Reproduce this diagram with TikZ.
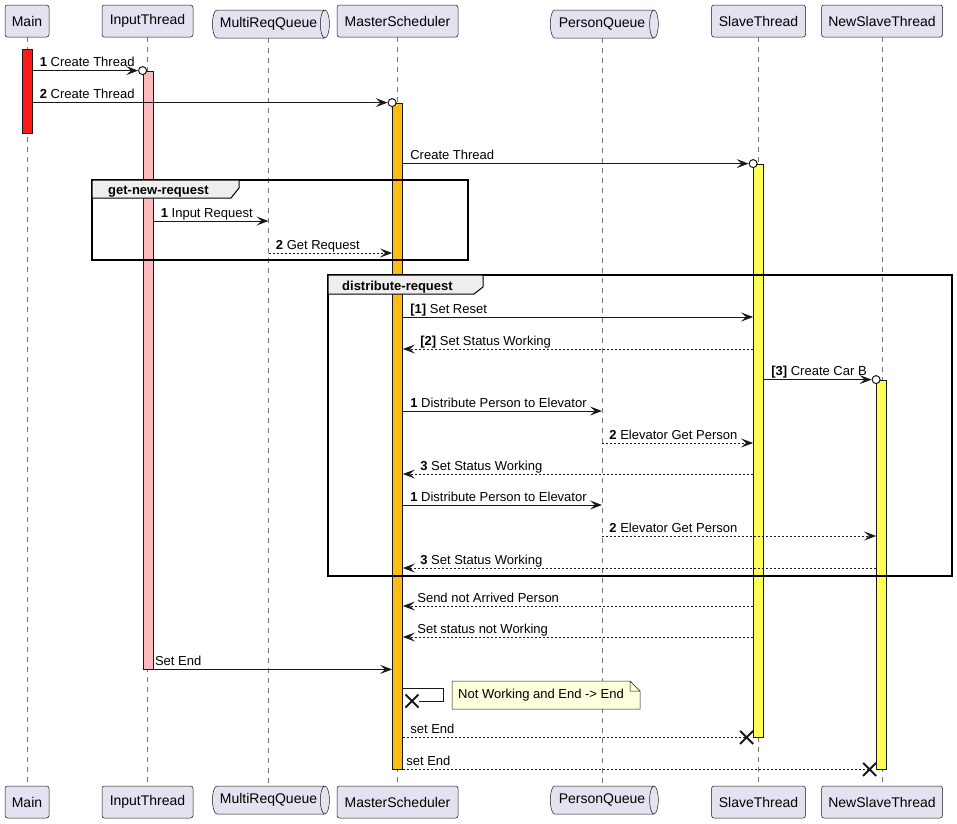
\documentclass[tikz,border=0pt]{standalone}
\usepackage{fontspec}
\setmainfont{Liberation Sans}
\usetikzlibrary{arrows.meta,shapes.geometric,shapes.misc}

\definecolor{partfill}{HTML}{E2E2F0}
\definecolor{partline}{HTML}{181818}
\definecolor{mainred}{HTML}{FF1A1A}
\definecolor{inputpink}{HTML}{FFBBBB}
\definecolor{masterorange}{HTML}{FFBB11}
\definecolor{slaveyellow}{HTML}{FFFF55}
\definecolor{notefill}{HTML}{FEFFDD}
\definecolor{grouphead}{HTML}{EEEEEE}

\tikzset{
  part/.style={draw=partline, fill=partfill, rounded corners=2.5pt, line width=0.5pt,
    minimum height=32pt, inner sep=0pt, font=\fontsize{14}{16}\selectfont},
  queue/.style={cylinder, draw=partline, fill=partfill, line width=0.5pt, shape aspect=0.7,
    minimum width=28pt, inner sep=0pt, font=\fontsize{14}{16}\selectfont},
  act/.style={draw=partline, line width=0.8pt, minimum width=10pt, inner sep=0pt},
  lifeline/.style={draw=gray!90!black, dash pattern=on 5pt off 5pt, line width=0.6pt},
  msg/.style={-{Stealth[length=12pt,width=9pt,inset=5pt]}, line width=0.9pt, draw=partline},
  reply/.style={msg, dash pattern=on 2pt off 2pt},
  endline/.style={line width=0.9pt, draw=partline, dash pattern=on 2pt off 2pt},
  lbl/.style={anchor=base west, inner sep=0pt, font=\fontsize{13}{15}\selectfont},
  create/.style={circle, draw=partline, fill=white, line width=1pt, minimum size=8pt, inner sep=0pt},
  destroy/.style={cross out, draw=partline, line width=2pt, minimum size=11pt, inner sep=0pt},
  grpframe/.style={draw=black, line width=1.5pt},
  grphead/.style={fill=grouphead, draw=black, line width=1pt},
  grplbl/.style={anchor=base west, inner sep=0pt, font=\fontsize{13}{15}\selectfont\bfseries},
}

\begin{document}
\begin{tikzpicture}[x=1pt,y=-1pt]
\useasboundingbox (0,0) rectangle (957,823);

%participants, top and bottom
\node[part, minimum width=44pt] (main) at (27,21) {Main};
\node[part, minimum width=91pt] (ipt) at (147.5,21) {InputThread};
\node[queue, minimum height=117pt] (mrq) at (268.5,24) {MultiReqQueue};
\node[part, minimum width=121pt] (ms) at (397.5,21) {MasterScheduler};
\node[queue, minimum height=108pt] (pq) at (602,24) {PersonQueue};
\node[part, minimum width=94pt] (sl) at (758.5,21) {SlaveThread};
\node[part, minimum width=121pt] (nsl) at (882,21) {NewSlaveThread};

\node[part, minimum width=44pt] (mainb) at (27,802) {Main};
\node[part, minimum width=91pt] (iptb) at (147.5,802) {InputThread};
\node[queue, minimum height=117pt] (mrqb) at (268.5,800) {MultiReqQueue};
\node[part, minimum width=121pt] (msb) at (397.5,802) {MasterScheduler};
\node[queue, minimum height=108pt] (pqb) at (602,800) {PersonQueue};
\node[part, minimum width=94pt] (slb) at (758.5,802) {SlaveThread};
\node[part, minimum width=121pt] (nslb) at (882,802) {NewSlaveThread};

%lifelines
\foreach \p in {main,ipt,mrq,ms,pq,sl,nsl}
  \draw[lifeline] (\p.south) -- (\p b.north);

%activations
\node[act, fill=mainred, minimum height=84pt] (mainact) at (27,91) {};
\node[act, fill=inputpink, minimum height=598pt] (inact) at (148,370) {};
\node[act, fill=masterorange, minimum height=666pt] (msact) at (397.5,436) {};
\node[act, fill=slaveyellow, minimum height=573pt] (slact) at (758.5,450.5) {};
\node[act, fill=slaveyellow, minimum height=389pt] (nslact) at (881.5,574.5) {};

%thread creation
\node[create] (mk1) at (inact.north west) {};
\node[create] (mk2) at (msact.north west) {};
\node[create] (mk3) at (slact.north west) {};
\node[create] (mk8) at (nslact.north west) {};
\draw[msg] (mainact.east |- mk1) node[lbl, xshift=7pt, yshift=4pt] (l1) {\textbf{1} Create Thread} -- (mk1.west);
\draw[msg] (mainact.east |- mk2) node[lbl, xshift=7pt, yshift=4pt] (l2) {\textbf{2} Create Thread} -- (mk2.west);
\draw[msg] (msact.east |- mk3) node[lbl, xshift=7pt, yshift=4pt] (l3) {Create Thread} -- (mk3.west);

%get-new-request
\draw[msg] (inact.east |- 0,221) node[lbl, xshift=7pt, yshift=4pt] (l4) {\textbf{1} Input Request} -- (mrq |- 0,221);
\draw[reply] (mrq |- 0,253) node[lbl, xshift=7pt, yshift=4pt] (l5) {\textbf{2} Get Request} -- (msact.west |- 0,253);

%distribute-request
\draw[msg] (msact.east |- 0,317) node[lbl, xshift=7pt, yshift=4pt] (l6) {\textbf{[1]} Set Reset} -- (slact.west |- 0,317);
\draw[reply] (slact.west |- 0,349) -- (msact.east |- 0,349) node[lbl, xshift=17pt, yshift=4pt] (l7) {\textbf{[2]} Set Status Working};
\draw[msg] (slact.east |- mk8) node[lbl, xshift=7pt, yshift=4pt] (l8) {\textbf{[3]} Create Car B} -- (mk8.west);
\draw[msg] (msact.east |- 0,411) node[lbl, xshift=7pt, yshift=4pt] (l9) {\textbf{1} Distribute Person to Elevator} -- (pq |- 0,411);
\draw[reply] (pq |- 0,443) node[lbl, xshift=7pt, yshift=4pt] (l10) {\textbf{2} Elevator Get Person} -- (slact.west |- 0,443);
\draw[reply] (slact.west |- 0,474) -- (msact.east |- 0,474) node[lbl, xshift=17pt, yshift=4pt] (l11) {\textbf{3} Set Status Working};
\draw[msg] (msact.east |- 0,505) node[lbl, xshift=7pt, yshift=4pt] (l12) {\textbf{1} Distribute Person to Elevator} -- (pq |- 0,505);
\draw[reply] (pq |- 0,536) node[lbl, xshift=7pt, yshift=4pt] (l13) {\textbf{2} Elevator Get Person} -- (nslact.west |- 0,536);
\draw[reply] (nslact.west |- 0,568) -- (msact.east |- 0,568) node[lbl, xshift=17pt, yshift=4pt] (l14) {\textbf{3} Set Status Working};

%after the loop
\draw[reply] (slact.west |- 0,606) -- (msact.east |- 0,606) node[lbl, xshift=14pt, yshift=4pt] (l15) {Send not Arrived Person};
\draw[reply] (slact.west |- 0,637) -- (msact.east |- 0,637) node[lbl, xshift=14pt, yshift=4pt] (l16) {Set status not Working};
\draw[msg] (inact.south west) node[lbl, xshift=12pt, yshift=4pt] (l17) {Set End} -- (msact.west |- inact.south);

%self end
\node[destroy] (x18) at (412,701) {};
\draw[line width=0.9pt, draw=partline] (msact.east |- 0,688) -- ++(41,0) -- ++(0,13) -- (x18.east);
\fill[notefill] (452,681) -- (630,681) -- (640,691) -- (640,709) -- (452,709) -- cycle;
\draw[partline, line width=0.5pt] (452,681) -- (630,681) -- (640,691) -- (640,709) -- (452,709) -- cycle
  (630,681) -- (630,691) -- (640,691);
\node[lbl, anchor=west] (note) at (458,695.5) {Not Working and End -> End};

%destroy threads
\node[destroy, anchor=east] (x19) at (slact.south west) {};
\node[destroy, anchor=east] (x20) at (nslact.south west) {};
\draw[endline] (msact.east |- x19) node[lbl, xshift=7pt, yshift=4pt] (l19) {set End} -- (x19.center);
\draw[endline] (msact.south east) node[lbl, xshift=3pt, yshift=4pt] (l20) {set End} -- (x20.center);

%groups
\draw[grpframe] (92,180) rectangle (468,260);
\draw[grphead] (92,180) -- (239,180) -- (239,188) -- (231,198) -- (92,198) -- cycle;
\node[grplbl] (g1) at (108,194) {get-new-request};
\draw[grpframe] (328,275) rectangle (952,576);
\draw[grphead] (328,275) -- (483,275) -- (483,287) -- (474,294) -- (328,294) -- cycle;
\node[grplbl] (g2) at (342,290) {distribute-request};

\end{tikzpicture}
\end{document}
